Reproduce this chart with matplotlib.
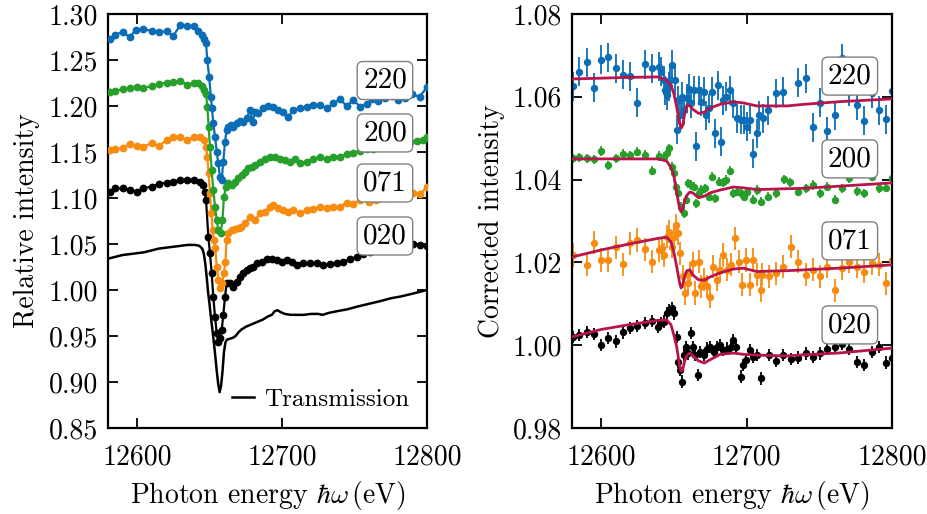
import numpy as np
import matplotlib
matplotlib.use("Agg")
import matplotlib.pyplot as plt

plt.rcParams['font.family'] = 'cmr10'
plt.rcParams['mathtext.fontset'] = 'cm'
plt.rcParams['axes.formatter.use_mathtext'] = True
plt.rcParams['font.size'] = 20

c_220 = '#0b6db6'
c_200 = '#26a02a'
c_071 = '#f78c10'
c_020 = 'black'
c_fit = '#b8154a'

# ---- left panel: relative intensity ----
E_220 = [12581.4, 12585, 12590, 12595, 12599, 12604, 12610, 12615, 12620.5, 12625, 12629.7, 12634.7,
         12639.5, 12642, 12644.6, 12646, 12647.6, 12648.5, 12649.7, 12651, 12651.7, 12652.6, 12653.8,
         12655, 12656, 12657.2, 12658.4, 12659.5, 12660.7, 12661.8, 12663, 12664.8, 12666.4, 12668.7,
         12671, 12673.3, 12675.6, 12677.9, 12679.8, 12681.4, 12683.7, 12687, 12690.6, 12694, 12697.5,
         12701, 12704.4, 12707.8, 12712.4, 12717, 12721.6, 12726.2, 12730.8, 12735.4, 12740, 12744.6,
         12749.2, 12753.8, 12758.4, 12762, 12766, 12771, 12776, 12780, 12785, 12789.6, 12795, 12800]
I_220 = [1.2725, 1.2772, 1.2808, 1.2746, 1.2826, 1.2833, 1.2819, 1.2804, 1.2812, 1.2761, 1.2877, 1.287,
         1.287, 1.2819, 1.2772, 1.2725, 1.2681, 1.25, 1.2319, 1.2101, 1.1975, 1.1812, 1.1667,
         1.1504, 1.1377, 1.1232, 1.1196, 1.1395, 1.1612, 1.1739, 1.1775, 1.1793, 1.1768, 1.1812,
         1.1841, 1.183, 1.1866, 1.1957, 1.183, 1.1938, 1.192, 1.1975, 1.2, 1.1993, 1.1957,
         1.1938, 1.1884, 1.1957, 1.1975, 1.1993, 1.2011, 1.2011, 1.1975, 1.2029, 1.2072, 1.2,
         1.2065, 1.1993, 1.2022, 1.2076, 1.205, 1.209, 1.211, 1.2065, 1.209, 1.213, 1.21, 1.2207]

E_200 = [12581.4, 12585, 12590, 12595, 12600, 12604, 12610, 12615, 12620.5, 12625, 12629.7, 12634.7,
         12639.5, 12642, 12644.6, 12646, 12647.6, 12648.5, 12649.4, 12650.3, 12651.5, 12652.6, 12653.8,
         12655, 12656, 12657.7, 12658.9, 12660, 12661.4, 12663, 12665.3, 12667.6, 12669.9, 12672.2,
         12674.5, 12676.8, 12679, 12681.4, 12684.8, 12688.3, 12691.7, 12695.2, 12698.6, 12702, 12705.5,
         12709, 12712.4, 12717, 12721.6, 12726.2, 12730.8, 12735.4, 12740, 12744.6, 12749.2, 12753.8,
         12758.4, 12763, 12768, 12773, 12778, 12783, 12788, 12793, 12797, 12800]
I_200 = [1.2156, 1.2167, 1.2181, 1.2192, 1.221, 1.2192, 1.2217, 1.2239, 1.2254, 1.2264, 1.2275, 1.2228,
         1.2254, 1.2246, 1.2217, 1.2174, 1.213, 1.1993, 1.1775, 1.1558, 1.1304, 1.1087, 1.0906,
         1.0761, 1.0652, 1.0616, 1.0761, 1.1014, 1.1123, 1.1159, 1.1141, 1.1178, 1.1214, 1.125,
         1.1286, 1.1322, 1.1341, 1.1359, 1.1395, 1.142, 1.1442, 1.1449, 1.142, 1.1413, 1.1395,
         1.142, 1.1384, 1.1395, 1.142, 1.1449, 1.142, 1.1449, 1.1449, 1.1478, 1.1493, 1.1514,
         1.1529, 1.153, 1.155, 1.156, 1.158, 1.159, 1.161, 1.162, 1.163, 1.166]

E_071 = [12581.4, 12585, 12590, 12595, 12600, 12604, 12610, 12615, 12620.5, 12625, 12629.7, 12634.7,
         12639.5, 12643.4, 12646, 12647.6, 12648.5, 12649.4, 12650.3, 12651.3, 12652.2, 12653.1, 12654,
         12655, 12656.1, 12657.2, 12658.6, 12660, 12661, 12661.8, 12663, 12665.3, 12667.6, 12670,
         12672, 12674.5, 12678, 12681.4, 12684.8, 12688.3, 12691.7, 12694, 12697.5, 12701, 12704.4,
         12707.8, 12712.4, 12717, 12721.6, 12726.2, 12730.8, 12735.4, 12740, 12744.6, 12749.2, 12753.8,
         12760, 12765, 12770, 12775, 12780, 12785, 12790, 12795, 12800]
I_071 = [1.1522, 1.1529, 1.154, 1.1587, 1.1565, 1.1558, 1.1594, 1.1565, 1.163, 1.1659, 1.1659, 1.163,
         1.1659, 1.1659, 1.163, 1.1558, 1.1449, 1.1268, 1.105, 1.0833, 1.0652, 1.0543, 1.0453,
         1.0254, 1.0109, 1.0022, 1.0076, 1.0185, 1.0308, 1.0543, 1.0616, 1.0652, 1.0659, 1.067,
         1.0688, 1.0725, 1.0797, 1.0761, 1.0833, 1.0851, 1.0906, 1.0924, 1.0888, 1.087, 1.0851,
         1.087, 1.0833, 1.087, 1.0877, 1.0899, 1.0888, 1.0906, 1.0906, 1.0949, 1.0935, 1.0978,
         1.096, 1.098, 1.10, 1.101, 1.103, 1.104, 1.105, 1.104, 1.112]

E_020 = [12581.4, 12585, 12590, 12595, 12600, 12604, 12610, 12615, 12620.5, 12625, 12629.7, 12634.7,
         12639.5, 12643.4, 12645.3, 12646.7, 12647.6, 12649.2, 12650.3, 12651.5, 12652.6, 12653.8, 12655,
         12656, 12657.2, 12658.4, 12659.5, 12660.7, 12661.8, 12664, 12666.4, 12668.7, 12671, 12673.3,
         12675.6, 12678, 12680.2, 12682.5, 12686, 12689.4, 12692.9, 12696.3, 12699.8, 12703.2, 12706.7,
         12710, 12714.7, 12719.3, 12723.9, 12728.5, 12733.1, 12737.7, 12742.3, 12746.9, 12751.5, 12756.1,
         12760.7, 12765, 12770, 12775, 12780, 12785, 12790, 12795, 12800]
I_020 = [1.1069, 1.1105, 1.1105, 1.1087, 1.1069, 1.1105, 1.1123, 1.1152, 1.1167, 1.1178, 1.1196, 1.1196,
         1.1196, 1.1178, 1.1141, 1.1069, 1.0978, 1.058, 1.0402, 1.0185, 0.9927, 0.971, 0.9532,
         0.9438, 0.9475, 0.9565, 0.9728, 0.9927, 1.0072, 1.008, 1.0036, 1.009, 1.0145, 1.0181,
         1.0217, 1.0236, 1.0254, 1.0297, 1.0308, 1.0333, 1.0333, 1.0326, 1.0308, 1.0326, 1.0308,
         1.0272, 1.0297, 1.029, 1.029, 1.0272, 1.0283, 1.0297, 1.0308, 1.0333, 1.0362, 1.0391,
         1.0417, 1.043, 1.044, 1.046, 1.047, 1.048, 1.05, 1.049, 1.048]

E_trans = [12580, 12585, 12590, 12595, 12600, 12605, 12610, 12615, 12620, 12625, 12630, 12635, 12640,
           12643, 12645, 12646, 12647, 12648, 12649, 12650, 12651, 12652, 12653, 12654, 12655, 12656,
           12657, 12658, 12659, 12660, 12661, 12662, 12664, 12666, 12668, 12670, 12672, 12675, 12678,
           12681, 12684, 12687, 12690, 12693, 12695, 12697, 12699, 12702, 12706, 12710, 12715, 12720,
           12725, 12728, 12732, 12738, 12745, 12752, 12760, 12768, 12775, 12782, 12790, 12800]
I_trans = [1.034, 1.036, 1.038, 1.039, 1.040, 1.041, 1.043, 1.045, 1.046, 1.047, 1.048, 1.049, 1.049,
           1.048, 1.045, 1.040, 1.030, 1.015, 0.998, 0.985, 0.970, 0.957, 0.943, 0.928, 0.912, 0.898,
           0.889, 0.896, 0.912, 0.933, 0.943, 0.946, 0.947, 0.948, 0.950, 0.954, 0.957, 0.960, 0.962,
           0.964, 0.966, 0.968, 0.971, 0.973, 0.977, 0.978, 0.976, 0.974, 0.973, 0.973, 0.973, 0.974,
           0.974, 0.973, 0.975, 0.977, 0.979, 0.982, 0.985, 0.988, 0.991, 0.993, 0.996, 1.000]

# ---- right panel: corrected intensity (data + fit) ----
Ec_220 = [12580.5, 12585, 12590, 12595, 12600, 12605, 12610, 12615, 12620, 12625, 12630, 12635, 12640,
          12641, 12643, 12644, 12645, 12646.4, 12647.6, 12649, 12651, 12652, 12653, 12654.5, 12655.6,
          12657, 12659, 12660.5, 12662, 12663.7, 12665.5, 12667, 12668.7, 12670.6, 12672.4, 12674,
          12676, 12678, 12680.5, 12682.5, 12684, 12686, 12688.5, 12690.8, 12693.6, 12696, 12698, 12700,
          12702.3, 12704.6, 12707, 12708.5, 12711, 12715, 12720.5, 12725, 12735.6, 12740.7, 12745.7,
          12750.6, 12755.6, 12760.7, 12765.5, 12770.6, 12775.6, 12781, 12786, 12790.8, 12796, 12800]
Ic_220 = [1.0626, 1.0661, 1.0683, 1.0622, 1.0689, 1.0695, 1.0669, 1.0653, 1.065, 1.0586, 1.0679, 1.0669,
          1.0673, 1.066, 1.064, 1.0616, 1.0604, 1.0626, 1.064, 1.0677, 1.064, 1.052, 1.0592, 1.0556,
          1.06, 1.0568, 1.0596, 1.062, 1.0584, 1.0616, 1.048, 1.0616, 1.0588, 1.0612, 1.0556, 1.0572,
          1.0612, 1.0512, 1.0628, 1.0492, 1.0592, 1.06, 1.0616, 1.0584, 1.0548, 1.0544, 1.0544, 1.0528,
          1.0544, 1.0463, 1.0512, 1.0556, 1.0548, 1.0568, 1.0608, 1.0612, 1.0634, 1.0645, 1.0526,
          1.0586, 1.0517, 1.0556, 1.0693, 1.0612, 1.058, 1.0542, 1.0608, 1.0568, 1.0546, 1.0615]
err_220 = 0.0035

Ec_200 = [12580.5, 12585, 12590, 12595, 12600, 12605, 12610, 12615, 12620, 12625, 12630, 12635, 12640,
          12643, 12645, 12647, 12649, 12650, 12651.7, 12653, 12655, 12657, 12658.6, 12660, 12662,
          12663.7, 12665, 12667, 12669, 12671.7, 12674, 12676, 12678.6, 12681, 12683.7, 12686, 12688.5,
          12691, 12693.6, 12696, 12698, 12700.5, 12704.6, 12707.4, 12710, 12715, 12720.5, 12725.7,
          12730, 12735.6, 12740.7, 12745.7, 12750.6, 12755.6, 12760.7, 12765.5, 12770.6, 12775.6,
          12781, 12786, 12790.8, 12796, 12800]
Ic_200 = [1.0451, 1.0454, 1.0451, 1.0449, 1.0469, 1.0435, 1.0451, 1.0463, 1.0459, 1.0467, 1.046, 1.0421,
          1.0457, 1.0455, 1.0465, 1.0476, 1.0431, 1.0415, 1.0383, 1.0367, 1.0335, 1.0319, 1.0351, 1.0391,
          1.0387, 1.0383, 1.0343, 1.0367, 1.0375, 1.0379, 1.0359, 1.0407, 1.0355, 1.0395, 1.0393,
          1.0399, 1.0421, 1.0367, 1.0371, 1.0367, 1.0359, 1.0371, 1.0351, 1.0375, 1.0347, 1.0359,
          1.0367, 1.0401, 1.0393, 1.0371, 1.0379, 1.0387, 1.0367, 1.0383, 1.0351, 1.0379, 1.0403,
          1.0372, 1.0367, 1.0407, 1.0379, 1.038, 1.0403]
err_200 = 0.0011

Ec_071 = [12580.5, 12590, 12595, 12600, 12605, 12610, 12615, 12620, 12625, 12630, 12635, 12639.5, 12642,
          12643.5, 12645, 12647, 12649, 12650, 12651.7, 12653, 12654.5, 12656.3, 12658, 12659.5,
          12661.4, 12663, 12664.8, 12667, 12668.7, 12670.6, 12673, 12674.7, 12677, 12679.8, 12682,
          12684, 12686.7, 12689.4, 12692.4, 12694.7, 12697, 12699.3, 12702.3, 12704.6, 12707.4,
          12709.7, 12710.8, 12715.4, 12720.5, 12725.3, 12730.3, 12735.6, 12740.7, 12745.7, 12750.6,
          12755.6, 12760.7, 12765.5, 12770.6, 12775.6, 12781, 12786, 12790.8, 12796, 12800]
Ic_071 = [1.0218, 1.0194, 1.0248, 1.0206, 1.0206, 1.0236, 1.0195, 1.0246, 1.0254, 1.0232, 1.0202, 1.023,
          1.0234, 1.0218, 1.0262, 1.0274, 1.0238, 1.0262, 1.029, 1.027, 1.0222, 1.0166, 1.0126, 1.015,
          1.0174, 1.0198, 1.0126, 1.0202, 1.0142, 1.0158, 1.0142, 1.0117, 1.019, 1.0158, 1.0182,
          1.0218, 1.0182, 1.0194, 1.0258, 1.0202, 1.0146, 1.0206, 1.0146, 1.0206, 1.017,
          1.0133, 1.017, 1.0166, 1.0174, 1.019, 1.0238, 1.0202, 1.017, 1.0182, 1.0166,
          1.019, 1.0133, 1.0186, 1.0202, 1.019, 1.0178, 1.0198, 1.0194, 1.015, 1.0206]
err_071 = 0.0028

Ec_020 = [12580.5, 12585, 12590, 12595, 12600, 12605, 12610, 12615, 12620, 12625, 12630, 12635, 12639,
          12641, 12643.5, 12645, 12647, 12649, 12650, 12652, 12653, 12654.5, 12655.6, 12657, 12658.6,
          12660, 12662, 12663, 12664.8, 12666.4, 12668, 12670.6, 12673, 12675, 12677.5, 12680, 12682,
          12684, 12686.7, 12689, 12690.8, 12693, 12696, 12697.7, 12699.3, 12702.3, 12704.6, 12707.4,
          12710, 12715.4, 12720.5, 12725.3, 12730.3, 12735.6, 12740.7, 12745.7, 12750.6, 12755.6,
          12760.7, 12765.5, 12770.6, 12775.6, 12781, 12786, 12790.8, 12796, 12800]
Ic_020 = [1.002, 1.0024, 1.0032, 1.0027, 1.0001, 1.0017, 1.0009, 1.0031, 1.0042, 1.0046, 1.0053, 1.0059,
          1.0045, 1.0053, 1.0057, 1.0077, 1.0085, 1.0089, 1.0077, 1.002, 0.996, 0.994, 0.9912, 0.9976,
          0.9996, 0.998, 1.0029, 0.9996, 0.9976, 0.9928, 0.9984, 0.9976, 0.9992, 0.9996, 0.9984,
          0.9996, 1.0, 0.9988, 0.9992, 0.9996, 1.0012, 0.9996, 0.9924, 0.9952, 0.9964, 0.9988, 0.9972,
          0.9976, 0.992, 0.9976, 0.9962, 0.9976, 0.9967, 0.997, 0.998, 0.9972, 0.998, 0.9991,
          0.9996, 1.0004, 0.9992, 0.996, 0.9952, 0.9984, 0.9996, 0.9958, 0.9968]
err_020 = 0.0015

Efit = [12580, 12600, 12620, 12639, 12645, 12648, 12650, 12652, 12654, 12655, 12656, 12657.5, 12659,
        12661, 12663, 12667, 12671, 12675, 12682, 12691, 12698, 12707, 12728, 12740, 12763, 12800]
fit_220 = [1.0643, 1.0645, 1.0647, 1.0648, 1.0640, 1.0628, 1.0608, 1.0575, 1.0535, 1.0524, 1.0530,
           1.0560, 1.0580, 1.0578, 1.0570, 1.0560, 1.0563, 1.0573, 1.0582, 1.0588, 1.0585, 1.0578,
           1.0578, 1.0582, 1.0588, 1.0595]
fit_200 = [1.0450, 1.0450, 1.0450, 1.0450, 1.0445, 1.0430, 1.0410, 1.0368, 1.0330, 1.0322, 1.0328,
           1.0350, 1.0362, 1.0370, 1.0368, 1.0356, 1.0360, 1.0368, 1.0375, 1.0382, 1.0380, 1.0376,
           1.0378, 1.0379, 1.0384, 1.0392]
fit_071 = [1.0213, 1.0230, 1.0245, 1.0258, 1.0261, 1.0250, 1.0225, 1.0189, 1.0150, 1.0138, 1.0145,
           1.0168, 1.0180, 1.0182, 1.0170, 1.0158, 1.0157, 1.0165, 1.0175, 1.0184, 1.0186, 1.0178,
           1.0180, 1.0182, 1.0186, 1.0194]
fit_020 = [1.0020, 1.0038, 1.0050, 1.0060, 1.0061, 1.0050, 1.0025, 0.9996, 0.9950, 0.9937, 0.9940,
           0.9962, 0.9975, 0.9981, 0.9975, 0.9962, 0.9957, 0.9965, 0.9978, 0.9981, 0.9978, 0.9976,
           0.9974, 0.9977, 0.9981, 0.9993]

labels = ['220', '200', '071', '020']
lab_E = 12771
lab_left = [1.2277, 1.1707, 1.1163, 1.0587]
lab_right = [1.0650, 1.0450, 1.0252, 1.0049]

fig = plt.figure(figsize=(9.27, 5.14), dpi=100)
ax1 = fig.add_axes([108/927, 1-428/514, 319/927, 414/514])
ax2 = fig.add_axes([572/927, 1-428/514, 320/927, 414/514])

ax1.plot(E_trans, I_trans, color='black', lw=1.8, label='Transmission', zorder=2)
for E, I, c in [(E_020, I_020, c_020), (E_071, I_071, c_071), (E_200, I_200, c_200), (E_220, I_220, c_220)]:
    ax1.plot(E, I, '-o', color=c, lw=1.6, ms=4.6, zorder=3)

for E, I, err, c in [(Ec_220, Ic_220, err_220, c_220), (Ec_200, Ic_200, err_200, c_200),
                     (Ec_071, Ic_071, err_071, c_071), (Ec_020, Ic_020, err_020, c_020)]:
    ax2.errorbar(E, I, yerr=err, fmt='o', color=c, ms=4.3, elinewidth=1.3, capsize=0, zorder=2)
for fit in [fit_220, fit_200, fit_071, fit_020]:
    ax2.plot(Efit, fit, color=c_fit, lw=2.0, zorder=3)

box = dict(boxstyle='round,pad=0.2', fc='white', ec='gray', lw=1)
for lab, yl, yr in zip(labels, lab_left, lab_right):
    ax1.text(lab_E, yl, lab, ha='center', va='center', fontsize=21, bbox=box, zorder=5)
    ax2.text(lab_E, yr, lab, ha='center', va='center', fontsize=21, bbox=box, zorder=5)

ax1.set_xlim(12580, 12800)
ax1.set_ylim(0.85, 1.30)
ax1.set_yticks(np.arange(0.85, 1.301, 0.05))
ax1.set_yticklabels(['%.2f' % v for v in np.arange(0.85, 1.301, 0.05)])
ax2.set_xlim(12580, 12800)
ax2.set_ylim(0.98, 1.08)
ax2.set_yticks(np.arange(0.98, 1.081, 0.02))
ax2.set_yticklabels(['%.2f' % v for v in np.arange(0.98, 1.081, 0.02)])

for ax in (ax1, ax2):
    ax.set_xticks([12600, 12700, 12800])
    ax.set_xticklabels(['12600', '12700', '12800'])
    ax.tick_params(direction='in', top=True, right=True, length=7, width=1.3, labelsize=20)
    ax.tick_params(axis='x', pad=12)
    ax.tick_params(axis='y', pad=7)
    for s in ax.spines.values():
        s.set_linewidth(1.6)
    ax.set_xlabel(r'Photon energy $\hbar\omega\,$(eV)', fontsize=20, labelpad=6)

ax1.set_ylabel('Relative intensity', fontsize=20, labelpad=6)
ax2.set_ylabel('Corrected intensity', fontsize=20, labelpad=6)

ax1.legend(loc='lower right', frameon=False, handlelength=0.9, handletextpad=0.4, fontsize=18,
           borderaxespad=0.3)

fig.savefig('out.png', dpi=100)
